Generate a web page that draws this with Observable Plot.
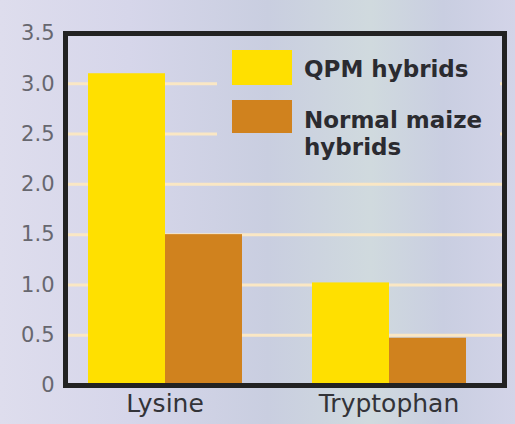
<!DOCTYPE html>
<html>
<head>
<meta charset="utf-8">
<script src="https://cdn.jsdelivr.net/npm/d3@7"></script>
<script src="https://cdn.jsdelivr.net/npm/@observablehq/plot@0.6"></script>
<style>
  html, body { margin: 0; padding: 0; width: 515px; height: 424px; overflow: hidden; }
  body, #legend {
    background: linear-gradient(90deg, #dedded 0%, #d6d6ea 25%, #c9cee0 52%, #d0dade 72%, #c9cee1 86%, #d3d4e8 100%) fixed;
  }
  #wrap { position: relative; width: 515px; height: 424px; }
  #grid, #chart, #frame { position: absolute; left: 0; top: 0; }
  #legend { position: absolute; left: 217px; top: 40px; width: 283px; height: 128px; font-family: "DejaVu Sans", sans-serif; }
  .sw { position: absolute; width: 60px; }
  .lab { position: absolute; font-size: 23px; font-weight: bold; line-height: 27px; color: #2b2b30; }
</style>
</head>
<body>
<div id="wrap"><div id="grid"></div><div id="chart"></div><div id="legend"></div><div id="frame"></div></div>
<script>
const categories = ["Lysine", "Tryptophan"];
const series = ["QPM hybrids", "Normal maize hybrids"];
const qpmValues = [3.1, 1.02];
const normalValues = [1.5, 0.47];
const seriesColors = ["#ffe000", "#d0821e"];
const yTicks = [0, 0.5, 1, 1.5, 2, 2.5, 3, 3.5];
const yTickLabels = ["0", "0.5", "1.0", "1.5", "2.0", "2.5", "3.0", "3.5"];

const rows = [];
categories.forEach((c, i) => {
  rows.push({category: c, series: series[0], value: qpmValues[i]});
  rows.push({category: c, series: series[1], value: normalValues[i]});
});

const common = {
  width: 515,
  height: 424,
  marginLeft: 65,
  marginRight: 11,
  marginTop: 33,
  marginBottom: 39,
  style: {background: "transparent", fontFamily: "DejaVu Sans, sans-serif", overflow: "visible"},
  y: {domain: [0, 3.5], label: null}
};

// bottom layer: y axis labels and horizontal gridlines across the whole frame
const grid = Plot.plot({
  ...common,
  marks: [
    Plot.ruleY(yTicks.slice(1, -1), {stroke: "#fae7c4", strokeWidth: 3}),
    Plot.axisY({ticks: yTicks, tickFormat: (d) => yTickLabels[yTicks.indexOf(d)], tickSize: 0, tickPadding: 11, fontSize: 21, fill: "#67676f", label: null})
  ]
});
document.getElementById("grid").appendChild(grid);

// middle layer: grouped bars and category axis
const chart = Plot.plot({
  ...common,
  fx: {domain: categories, paddingInner: 0.307, paddingOuter: 0.131, align: 0.368, label: null},
  x: {domain: series, padding: 0, axis: null},
  y: {...common.y, axis: null},
  color: {domain: series, range: seriesColors},
  marks: [
    Plot.barY(rows, {fx: "category", x: "series", y: "value", fill: "series"}),
    Plot.axisFx({anchor: "bottom", tickSize: 0, tickPadding: 9, fontSize: 25, fill: "#333338", label: null})
  ]
});
document.getElementById("chart").appendChild(chart);

// top layer: thick black frame
const frame = Plot.plot({
  ...common,
  y: {...common.y, axis: null},
  marks: [Plot.frame({stroke: "#222", strokeWidth: 5})]
});
document.getElementById("frame").appendChild(frame);

const legend = document.getElementById("legend");
const swTops = [10, 60], swHeights = [35, 33], labTops = [16, 67];
series.forEach((s, i) => {
  const sw = document.createElement("div");
  sw.className = "sw";
  sw.style.cssText = `left:15px;top:${swTops[i]}px;height:${swHeights[i]}px;background:${seriesColors[i]}`;
  legend.appendChild(sw);
  const lab = document.createElement("div");
  lab.className = "lab";
  lab.style.cssText = `left:87px;top:${labTops[i]}px;width:195px`;
  lab.textContent = s;
  legend.appendChild(lab);
});
</script>
</body>
</html>
